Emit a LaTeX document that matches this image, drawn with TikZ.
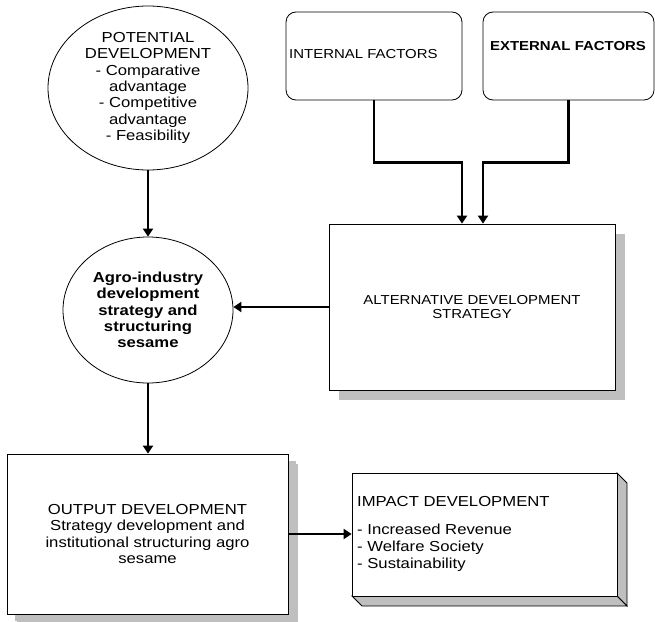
\documentclass[tikz,border=0pt]{standalone}
\usepackage{fontspec}
\setmainfont{Liberation Sans}[FakeStretch=1.15]
\usetikzlibrary{shapes.geometric,arrows.meta,calc,shadows}
\begin{document}
\begin{tikzpicture}[x=1pt,y=-1pt,
  box/.style={draw=black, line width=0.8pt, fill=white, inner sep=0pt, align=center},
  shadowbox/.style={box, drop shadow={shadow xshift=10pt, shadow yshift=-10pt, fill=gray!50, opacity=1}},
  oval/.style={draw=black, ellipse, line width=0.8pt, fill=white, inner sep=0pt, align=center},
  arr/.style={line width=2.2pt, -{Triangle[width=10pt,length=8pt]}},
  big/.style={font=\fontsize{14.5}{16.4}\selectfont},
  small/.style={font=\fontsize{13}{14}\selectfont},
  txt/.style={inner sep=0pt, align=left},
]
\useasboundingbox (0,0) rectangle (655,621);

% nodes
\node[oval, minimum width=200pt, minimum height=164pt, big] (pot) at (148,88)
  {POTENTIAL\\DEVELOPMENT\\- Comparative\\advantage\\- Competitive\\advantage\\- Feasibility};
\node[oval, minimum width=170pt, minimum height=146pt, big, font=\fontsize{14.5}{16.2}\selectfont\bfseries] (agro) at (148,310)
  {Agro-industry\\development\\strategy and\\structuring\\sesame};

\node[box, rounded corners=10pt, minimum width=176pt, minimum height=88pt] (int) at (374,56) {};
\node[txt, small, anchor=west] (intT) at (289,54) {INTERNAL FACTORS};
\node[box, rounded corners=10pt, minimum width=171pt, minimum height=88pt] (ext) at (568.5,56) {};
\node[txt, small, font=\fontsize{13}{14}\selectfont\bfseries] (extT) at (568,46) {EXTERNAL FACTORS};

\node[shadowbox, minimum width=286pt, minimum height=166pt, small] (alt) at (472,307)
  {ALTERNATIVE DEVELOPMENT\\STRATEGY};

\node[shadowbox, drop shadow={shadow xshift=8pt, shadow yshift=-7pt, fill=gray!50, opacity=1},
  minimum width=281pt, minimum height=160pt, big] (out) at (147.5,534)
  {OUTPUT DEVELOPMENT\\Strategy development and\\institutional structuring agro\\sesame};

% impact 3D box
\fill[gray!50, draw=black, line width=0.8pt] (617,473) -- (627,483) -- (627,606) -- (617,596) -- cycle;
\fill[gray!50, draw=black, line width=0.8pt] (352,596) -- (617,596) -- (627,606) -- (362,606) -- cycle;
\node[box, minimum width=265pt, minimum height=123pt] (imp) at (484.5,534.5) {};
\node[txt, big, anchor=north west, font=\fontsize{14.5}{16.6}\selectfont] (impT) at (357,496)
  {IMPACT DEVELOPMENT\\[12pt]- Increased Revenue\\- Welfare Society\\- Sustainability};

% connectors
\draw[arr] (pot.south) -- (agro.north);
\draw[arr] (agro.south) -- (agro.south |- out.north);
\draw[arr] (alt.west) -- (alt.west -| agro.east);
\draw[arr] (out.east) -- (out.east -| imp.west);
\draw[arr] (int.south) -- ++(0,62) -| ([xshift=-10pt]alt.north);
\draw[arr] (ext.south) -- ++(0,62) -| ([xshift=11pt]alt.north);
\end{tikzpicture}
\end{document}
